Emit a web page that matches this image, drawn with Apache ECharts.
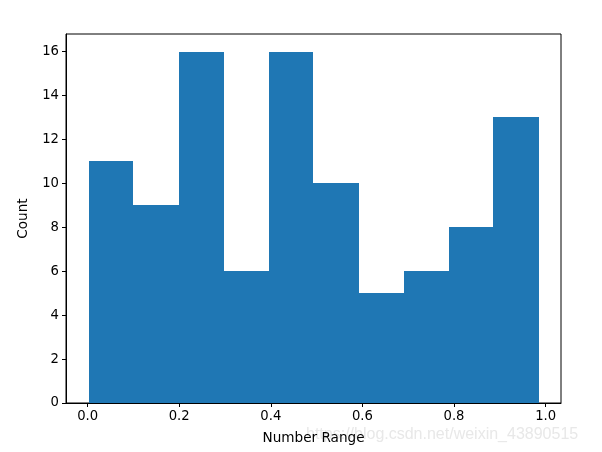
<!DOCTYPE html>
<html><head><meta charset="utf-8">
<script src="https://cdn.jsdelivr.net/npm/echarts@6/dist/echarts.min.js"></script>
<style>html,body{margin:0;padding:0;background:#fff}#c{width:602px;height:452px}</style>
</head><body><div id="c"></div>
<script>
const binEdges = [0.002, 0.100, 0.199, 0.297, 0.395, 0.493, 0.592, 0.690, 0.788, 0.886, 0.985];
const counts = [11, 9, 16, 6, 16, 10, 5, 6, 8, 13];
const xTicks = [0.0, 0.2, 0.4, 0.6, 0.8, 1.0];
const yTicks = [0, 2, 4, 6, 8, 10, 12, 14, 16];

const data = counts.map((c, i) => [binEdges[i], binEdges[i + 1], c]);
const font = 'DejaVu Sans';
const chart = echarts.init(document.getElementById('c'), null, {renderer: 'canvas'});
chart.setOption({
  animation: false,
  backgroundColor: '#fff',
  grid: {left: 66, right: 41, top: 34, bottom: 49, containLabel: false, show: true, borderColor: '#000', borderWidth: 1},
  xAxis: {
    type: 'value', min: -0.0472, max: 1.0336,
    name: 'Number Range', nameLocation: 'middle', nameGap: 28,
    nameTextStyle: {color: '#000', fontFamily: font, fontSize: 13.6},
    axisLine: {show: true, onZero: false, lineStyle: {color: '#000', width: 1}},
    axisTick: {show: true, inside: false, length: 4, customValues: xTicks, lineStyle: {color: '#000'}},
    axisLabel: {customValues: xTicks, color: '#000', fontFamily: font, fontSize: 13.2, margin: 7,
      formatter: v => v.toFixed(1)},
    splitLine: {show: false}
  },
  yAxis: {
    type: 'value', min: 0, max: 16.8,
    name: 'Count', nameLocation: 'middle', nameGap: 36,
    nameTextStyle: {color: '#000', fontFamily: font, fontSize: 13.6},
    axisLine: {show: true, onZero: false, lineStyle: {color: '#000', width: 1}},
    axisTick: {show: true, inside: false, length: 4, customValues: yTicks, lineStyle: {color: '#000'}},
    axisLabel: {customValues: yTicks, color: '#000', fontFamily: font, fontSize: 13.2, margin: 7},
    splitLine: {show: false}
  },
  series: [{
    type: 'custom',
    renderItem: function (params, api) {
      const p0 = api.coord([api.value(0), 0]);
      const p1 = api.coord([api.value(1), api.value(2)]);
      const x0 = Math.round(p0[0]), x1 = Math.round(p1[0]);
      const y0 = Math.round(p0[1]), y1 = Math.round(p1[1]);
      return {type: 'rect', shape: {x: x0, y: y1, width: x1 - x0, height: y0 - y1},
        style: {fill: '#1f77b4'}};
    },
    encode: {x: [0, 1], y: 2},
    data: data
  }],
  graphic: [{
    type: 'text', left: 306, top: 427, z: -1,
    style: {text: 'https://blog.csdn.net/weixin_43890515', fill: '#e8e8e8', font: '16px "Liberation Sans", Arial, sans-serif'}
  }]
});
</script></body></html>
